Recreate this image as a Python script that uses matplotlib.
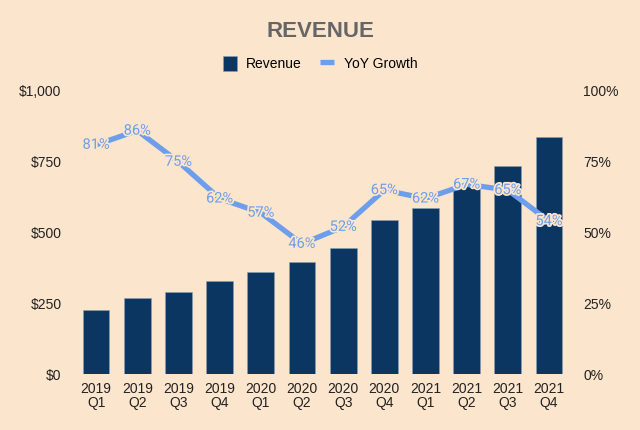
import matplotlib
matplotlib.use("Agg")
import matplotlib.pyplot as plt
import matplotlib.patheffects as pe
from matplotlib.ticker import FuncFormatter

# ---------------------------- Data -------------------------------------------
quarters = ["2019\nQ1", "2019\nQ2", "2019\nQ3", "2019\nQ4",
            "2020\nQ1", "2020\nQ2", "2020\nQ3", "2020\nQ4",
            "2021\nQ1", "2021\nQ2", "2021\nQ3", "2021\nQ4"]
revenue = [226, 270, 289, 328, 359, 397, 445, 544, 587, 665, 735, 837]
yoy_growth = [81, 86, 75, 62, 57, 46, 52, 65, 62, 67, 65, 54]

# ---------------------------- Style ------------------------------------------
BG = "#fce5cd"
BAR = "#0b3661"
LINE = "#6d9eeb"
plt.rcParams["font.family"] = ["Liberation Sans", "DejaVu Sans"]

fig = plt.figure(figsize=(6.4, 4.3), dpi=100, facecolor=BG)
ax = fig.add_axes([0.118, 0.1302, 0.772, 0.6582])
ax.set_facecolor(BG)

x = list(range(len(quarters)))
bars = ax.bar(x, revenue, width=0.65, color=BAR, edgecolor="#8aa0b8",
              linewidth=0.4, label="Revenue", zorder=2)
ax.set_xlim(-0.5, len(quarters) - 0.5)
ax.set_ylim(0, 1000)
ax.set_yticks([0, 250, 500, 750, 1000])
ax.yaxis.set_major_formatter(FuncFormatter(lambda v, _: f"${v:,.0f}"))
ax.set_xticks(x)
ax.set_xticklabels(quarters, linespacing=1.0)

ax2 = ax.twinx()
line, = ax2.plot(x, yoy_growth, color=LINE, linewidth=3.8,
                 label="YoY Growth", zorder=3, solid_capstyle="butt")
ax2.set_ylim(0, 100)
ax2.set_yticks([0, 25, 50, 75, 100])
ax2.yaxis.set_major_formatter(FuncFormatter(lambda v, _: f"{v:.0f}%"))

# Data labels on the growth line
for xi, g in zip(x, yoy_growth):
    ax2.text(xi, g, f"{g}%", ha="center", va="center", fontsize=10.5,
             color=LINE, zorder=4, family=["Roboto", "DejaVu Sans"],
             path_effects=[pe.withStroke(linewidth=2.5, foreground=BG)])

for a in (ax, ax2):
    for s in a.spines.values():
        s.set_visible(False)
    a.tick_params(length=0, labelsize=10, colors="#222222")
ax.tick_params(axis="y", pad=10)
ax2.tick_params(axis="y", pad=10)
ax.tick_params(axis="x", pad=6)

fig.suptitle("REVENUE", x=0.5, y=0.926, va="center", fontsize=16,
             fontweight="bold", color="#666666")
fig.legend(handles=[bars, line], labels=["Revenue", "YoY Growth"],
           loc="center", bbox_to_anchor=(0.5, 0.853), ncol=2, frameon=False,
           fontsize=10, handlelength=1.0, handleheight=1.3, columnspacing=1.3,
           handletextpad=0.7)

fig.savefig("out.png", dpi=100, facecolor=BG)
